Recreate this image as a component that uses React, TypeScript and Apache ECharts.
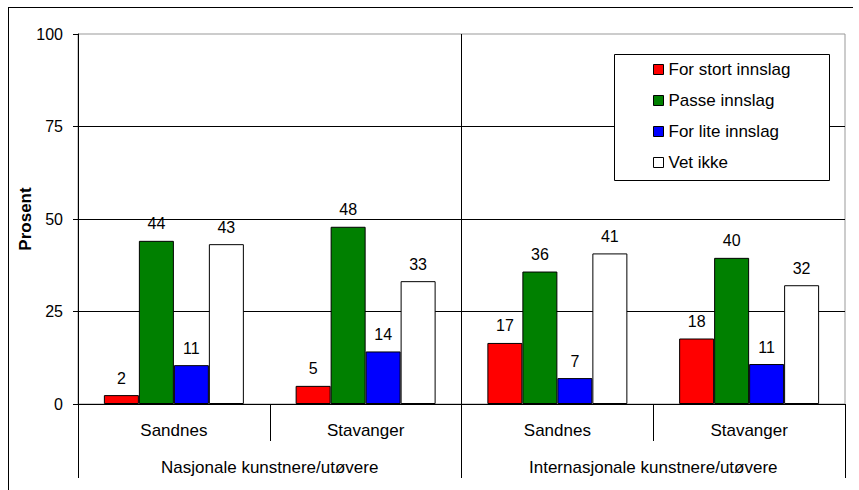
import React, { useEffect, useRef } from "react";
import * as echarts from "echarts";

const categories = ["Sandnes", "Stavanger", "Sandnes", "Stavanger"];
const groups = ["Nasjonale kunstnere/utøvere", "Internasjonale kunstnere/utøvere"];
const seriesNames = ["For stort innslag", "Passe innslag", "For lite innslag", "Vet ikke"];
const forStort = [2.4, 4.9, 16.5, 17.7];
const passe = [44.1, 47.9, 35.8, 39.5];
const forLite = [10.5, 14.2, 7.0, 10.8];
const vetIkke = [43.2, 33.2, 40.7, 32.1];
const yTicks = [0, 25, 50, 75, 100];
const colors = ["#FF0000", "#008000", "#0000FF", "#FFFFFF"];

const FONT = "'Liberation Sans', Arial, sans-serif";

export default function App() {
  const ref = useRef<HTMLDivElement>(null);
  useEffect(() => {
    if (!ref.current) return;
    const chart = echarts.init(ref.current, undefined, { renderer: "svg" });
    const data = [forStort, passe, forLite, vetIkke];
    chart.setOption({
      animation: false,
      textStyle: { fontFamily: FONT, color: "#000" },
      grid: {
        left: 78,
        right: 14,
        top: 34,
        bottom: 86,
        show: true,
        borderColor: "#999",
        borderWidth: 1,
        backgroundColor: "transparent",
      },
      legend: {
        orient: "vertical",
        left: 648,
        top: 56,
        padding: 5,
        itemWidth: 10,
        itemHeight: 10,
        itemGap: 14,
        icon: "rect",
        z: 5,
        textStyle: { fontFamily: FONT, fontSize: 17, lineHeight: 17, color: "#000" },
        data: seriesNames.map((n, i) => ({
          name: n,
          itemStyle: { color: colors[i], borderColor: "#000", borderWidth: 1 },
        })),
      },
      graphic: [
        {
          type: "rect",
          z: 3,
          shape: { x: 614.5, y: 54.5, width: 215, height: 126 },
          style: { fill: "#fff", stroke: "#000", lineWidth: 1 },
        },
        {
          type: "line",
          z: 3,
          shape: { x1: 8, y1: 7.5, x2: 853, y2: 7.5 },
          style: { stroke: "#000", lineWidth: 1 },
        },
        {
          type: "line",
          z: 3,
          shape: { x1: 8.5, y1: 7, x2: 8.5, y2: 490 },
          style: { stroke: "#000", lineWidth: 1 },
        },
        {
          type: "text",
          z: 3,
          x: 25,
          y: 219,
          rotation: Math.PI / 2,
          style: {
            text: "Prosent",
            fontFamily: FONT,
            fontWeight: "bold",
            fontSize: 17,
            fill: "#000",
            align: "center",
            verticalAlign: "middle",
          },
        },
      ],
      xAxis: [
        {
          type: "category",
          data: categories,
          position: "bottom",
          axisLine: { lineStyle: { color: "#000", width: 1 } },
          axisTick: { show: true, interval: 0, length: 37, lineStyle: { color: "#000" } },
          axisLabel: { interval: 0, margin: 18, fontSize: 17, lineHeight: 17, color: "#000", fontFamily: FONT },
          splitLine: { show: false },
        },
        {
          type: "category",
          data: groups,
          position: "bottom",
          axisLine: { lineStyle: { color: "#000", width: 1 } },
          axisTick: { show: true, interval: 0, length: 74, lineStyle: { color: "#000" } },
          axisLabel: { interval: 0, margin: 55, fontSize: 17, lineHeight: 17, color: "#000", fontFamily: FONT },
          splitLine: {
            show: true,
            interval: 0,
            showMinLine: false,
            showMaxLine: false,
            lineStyle: { color: "#000", width: 1 },
          },
        },
      ],
      yAxis: {
        type: "value",
        min: yTicks[0],
        max: yTicks[yTicks.length - 1],
        interval: 25,
        axisLine: { show: true, lineStyle: { color: "#000", width: 1 } },
        axisTick: { show: true, length: 5, lineStyle: { color: "#000" } },
        axisLabel: { margin: 15, fontSize: 16, color: "#000", fontFamily: FONT },
        splitLine: { show: true, showMaxLine: false, lineStyle: { color: "#000", width: 1 } },
      },
      series: seriesNames.map((n, i) => ({
        name: n,
        type: "bar",
        xAxisIndex: 0,
        data: data[i],
        barGap: "0%",
        barCategoryGap: "27%",
        z: 2,
        itemStyle: { color: colors[i], borderColor: "#000", borderWidth: 1 },
        label: {
          show: true,
          position: "top",
          distance: 9,
          fontSize: 16,
          fontFamily: FONT,
          color: "#000",
          formatter: (p: any) => String(Math.round(p.value)),
        },
      })),
    });
    return () => chart.dispose();
  }, []);
  return (
    <div
      ref={ref}
      style={{ position: "absolute", left: 0, top: 0, width: 859, height: 490, background: "#fff" }}
    />
  );
}
